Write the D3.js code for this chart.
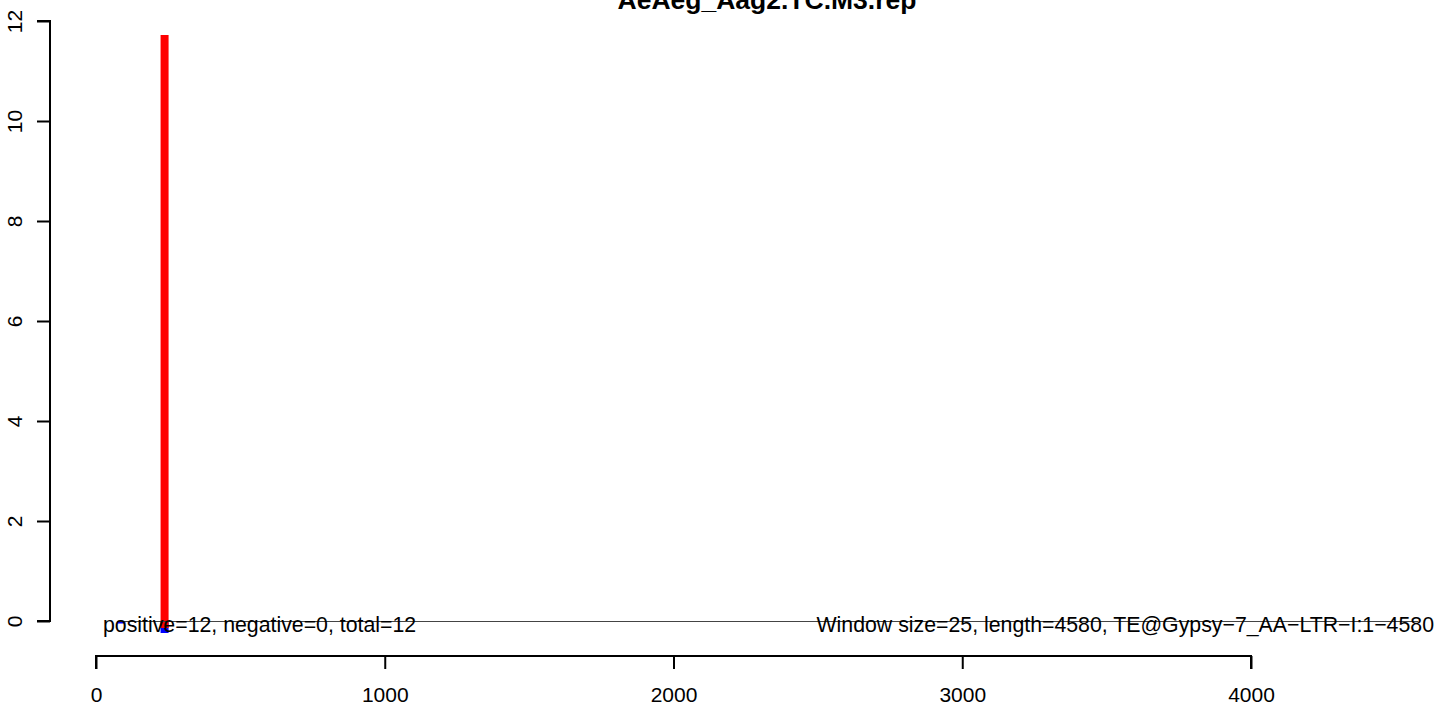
<!DOCTYPE html>
<html><head><meta charset="utf-8">
<script src="https://cdn.jsdelivr.net/npm/d3@7"></script>
<style>body{margin:0;background:#fff}svg{display:block}text{font-family:"Liberation Sans",Arial,sans-serif}</style>
</head><body>
<script>
const title = "AeAeg_Aag2.TC.M3.rep";
const xTicks = [0, 1000, 2000, 3000, 4000];
const yTicks = [0, 2, 4, 6, 8, 10, 12];
const posX = [237.5];
const posVal = [11.72];
const negX = [87.5, 237.5];
const negVal = [-0.05, -0.24];
const baselineRange = [76, 4580];
const leftNote = "positive=12, negative=0, total=12";
const rightNote = "Window size=25, length=4580, TE@Gypsy\u22127_AA\u2212LTR\u2212I:1\u22124580";

const W = 1436, H = 707;
const svg = d3.select("body").append("svg").attr("width", W).attr("height", H);
const x = d3.scaleLinear().domain([0, 4000]).range([96, 1251]);
const y = d3.scaleLinear().domain([0, 12]).range([621, 21]);
const barW = 8;
const FONT = '"Liberation Sans",Arial,sans-serif';

// negative (blue) bars
svg.selectAll("rect.neg").data(negX.map((d,i)=>({x:d,v:negVal[i]}))).enter().append("rect")
  .attr("x", d => x(d.x) - barW/2).attr("width", barW)
  .attr("y", y(0)).attr("height", d => y(d.v) - y(0))
  .attr("fill", "#0000ff");

// positive (red) bars
svg.selectAll("rect.pos").data(posX.map((d,i)=>({x:d,v:posVal[i]}))).enter().append("rect")
  .attr("x", d => x(d.x) - barW/2).attr("width", barW)
  .attr("y", d => y(d.v)).attr("height", d => y(0) - y(d.v) + 7)
  .attr("fill", "#ff0000");

// zero line
svg.append("line").attr("x1", x(baselineRange[0])).attr("x2", x(baselineRange[1]))
  .attr("y1", y(0) + 0.5).attr("y2", y(0) + 0.5).attr("stroke", "#444").attr("stroke-width", 1);

// notes
svg.append("text").attr("x", 103).attr("y", 632).attr("font-size", 21.3).text(leftNote);
svg.append("text").attr("x", 1434).attr("y", 632).attr("font-size", 21.3).attr("text-anchor", "end").text(rightNote);

// x axis
const gx = svg.append("g").attr("transform", "translate(0,656)")
  .call(d3.axisBottom(x).tickValues(xTicks).tickFormat(d3.format("d")).tickSize(13).tickPadding(6));
gx.select(".domain").attr("stroke-width", 2).attr("d", `M${x(0)},13V0H${x(4000)}V13`);
gx.selectAll(".tick line").attr("stroke-width", 2);
gx.selectAll("text").attr("font-size", 21).attr("font-family", FONT).attr("fill", "#000")
  .attr("y", null).attr("dy", null).attr("transform", "translate(0,46)");

// y axis
const gy = svg.append("g").attr("transform", "translate(50,0)")
  .call(d3.axisLeft(y).tickValues(yTicks).tickSize(13).tickFormat(d3.format("d")));
gy.select(".domain").attr("stroke-width", 2).attr("d", `M-13,${y(12)}H0V${y(0)}H-13`);
gy.selectAll(".tick line").attr("stroke-width", 2);
gy.selectAll(".tick text").attr("font-size", 21).attr("font-family", FONT)
  .attr("fill", "#000").attr("x", null).attr("dy", null).attr("text-anchor", "middle")
  .attr("transform", "translate(-28,0) rotate(-90)").attr("dy", "-0.0em");

// title
svg.append("text").attr("x", 767).attr("y", 9).attr("text-anchor", "middle")
  .attr("font-size", 26.5).attr("font-weight", "bold").text(title);
</script>
</body></html>
